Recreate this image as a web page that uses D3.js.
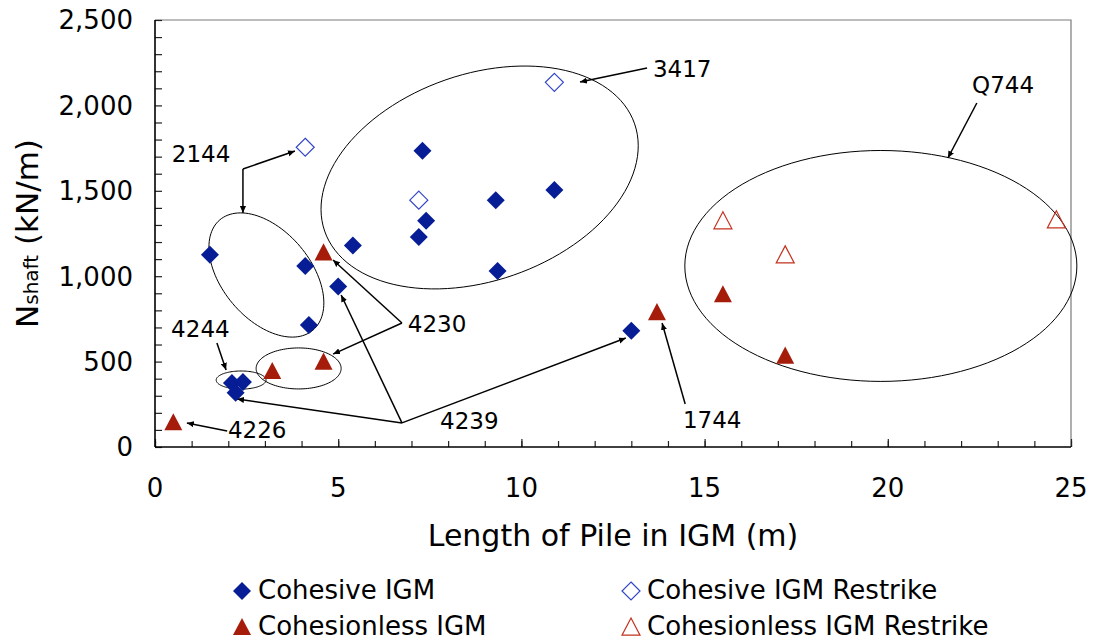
<!DOCTYPE html>
<html>
<head>
<meta charset="utf-8">
<script src="https://cdn.jsdelivr.net/npm/d3@7"></script>
<style>
  body { margin: 0; background: #fff; }
  text { font-family: "DejaVu Sans", Verdana, sans-serif; fill: #000; }
</style>
</head>
<body>
<div class="canvas"></div>
<script>
// pile data: [length in IGM (m), Nshaft (kN/m)]
const cohesive = [[1.5, 1125], [4.1, 1060], [4.2, 715], [5.0, 940], [5.4, 1180], [7.3, 1735], [7.4, 1325],
  [7.2, 1230], [9.3, 1445], [9.35, 1030], [10.9, 1505], [13.0, 680], [2.1, 375], [2.4, 380], [2.2, 318]];
const cohesiveRestrike = [[4.1, 1755], [7.2, 1445], [10.9, 2135]];
const cohesionless = [[0.5, 145], [3.2, 445], [4.6, 500], [4.6, 1140], [13.7, 790], [15.5, 895], [17.2, 535]];
const cohesionlessRestrike = [[15.5, 1325], [17.2, 1125], [24.6, 1330]];

const seriesNames = ["Cohesive IGM", "Cohesive IGM Restrike", "Cohesionless IGM", "Cohesionless IGM Restrike"];

const xTicks = [0, 5, 10, 15, 20, 25];
const yTicks = [0, 500, 1000, 1500, 2000, 2500];

// pile id callouts (anchor in data units)
const noteLabels = [["2144", 0.46, 1669], ["3417", 13.59, 2166], ["Q744", 22.3, 2073], ["1744", 14.41, 111],
  ["4230", 6.9, 673], ["4239", 7.78, 105], ["4244", 0.44, 644], ["4226", 1.99, 53]];
// arrows: [from, to] in data units
const noteArrows = [
  [[2.40, 1628], [2.40, 1370]], [[2.40, 1628], [3.82, 1733]],
  [[13.43, 2219], [11.6, 2137]],
  [[22.43, 2014], [21.64, 1692]],
  [[14.47, 252], [13.84, 726]],
  [[6.74, 726], [4.86, 1095]], [[6.74, 726], [4.86, 544]],
  [[6.74, 141], [5.08, 890]], [[6.74, 141], [2.24, 281]], [[6.74, 141], [12.85, 638]],
  [[1.69, 609], [1.94, 451]],
  [[1.97, 94], [0.87, 141]]
];
// grouping ellipses: centre plus two conjugate half-axis vectors, data units
const groupEllipses = [
  [[3.04, 1007], [1.27, -323], [-0.92, -167]],
  [[8.86, 1578], [4.23, 314], [0.92, -572]],
  [[19.81, 1060], [5.35, 0], [0, 676]],
  [[2.35, 392], [0.68, 0], [0, 53]],
  [[3.92, 460], [1.16, 0], [0, 120]]
];

const svgWidth = 1095;
const svgHeight = 641;
const margin = {top: 20, right: 24, bottom: 194, left: 155};
const graphWidth = svgWidth - margin.left - margin.right;
const graphHeight = svgHeight - margin.top - margin.bottom;

const blue = "#061d96", blueOpen = "#3346c6", red = "#a61c0b", redOpen = "#c3321f";

// excel-like marker shapes, centred on their box
const shapes = {
  diamond: function(s) {
    return `M0,${-s}L${s},0L0,${s}L${-s},0Z`;
  },
  triangle: function(s) {
    return `M0,${-s}L${s},${s * 0.9}L${-s},${s * 0.9}Z`;
  }
};

const svg = d3.select('.canvas')
  .append('svg')
    .attr('width', svgWidth)
    .attr('height', svgHeight);

svg.append("defs").append("marker")
    .attr("id", "head")
    .attr("viewBox", "0 -4 8 8")
    .attr("refX", 8).attr("refY", 0)
    .attr("markerWidth", 7).attr("markerHeight", 7)
    .attr("markerUnits", "userSpaceOnUse")
    .attr("orient", "auto")
  .append("path")
    .attr("d", "M0,-3.5L8,0L0,3.5Z")
    .attr("fill", "#000");

const graph = svg.append('g')
  .attr('transform', `translate(${margin.left},${margin.top})`);

const x = d3.scaleLinear().domain([0, 25]).range([0, graphWidth]);
const y = d3.scaleLinear().domain([0, 2500]).range([graphHeight, 0]);

// frame top and right
graph.append("path")
  .attr("d", `M0,0H${graphWidth}V${graphHeight}`)
  .attr("fill", "none").attr("stroke", "#7a7a7a").attr("stroke-width", 1.2);

// minor ticks
const xAxisG = graph.append("g").attr("transform", `translate(0,${graphHeight})`);
xAxisG.call(d3.axisBottom(x).tickValues(d3.range(0, 26, 1)).tickSizeInner(-6).tickSizeOuter(0).tickFormat(""));
xAxisG.append("g").call(d3.axisBottom(x).tickValues(xTicks).tickSizeInner(-8).tickSizeOuter(0).tickFormat(""));
xAxisG.selectAll(".domain").remove();

const yAxisG = graph.append("g");
yAxisG.call(d3.axisLeft(y).tickValues(d3.range(0, 2501, 100)).tickSizeInner(-7).tickSizeOuter(0).tickFormat(""));
yAxisG.selectAll(".domain").remove();
graph.selectAll(".tick line").attr("stroke", "#222").attr("stroke-width", 1.2);

// axis lines
graph.append("line").attr("x1", 0).attr("x2", 0).attr("y1", 0).attr("y2", graphHeight)
  .attr("stroke", "#000").attr("stroke-width", 1.6);
graph.append("line").attr("x1", 0).attr("x2", graphWidth).attr("y1", graphHeight).attr("y2", graphHeight)
  .attr("stroke", "#000").attr("stroke-width", 1.6);

// tick labels
graph.selectAll(".xlab").data(xTicks).enter().append("text")
  .attr("x", d => x(d)).attr("y", graphHeight + 50)
  .attr("text-anchor", "middle").style("font-size", "26px")
  .text(d => d);
graph.selectAll(".ylab").data(yTicks).enter().append("text")
  .attr("x", -22).attr("y", d => y(d)).attr("dy", "0.36em")
  .attr("text-anchor", "end").style("font-size", "26px")
  .text(d => d3.format(",")(d));

// axis titles
svg.append("text")
  .attr("x", margin.left + graphWidth / 2).attr("y", 546)
  .attr("text-anchor", "middle").style("font-size", "30px")
  .text("Length of Pile in IGM (m)");
const yt = svg.append("text")
  .attr("transform", `translate(38,${margin.top + graphHeight / 2}) rotate(-90)`)
  .attr("text-anchor", "middle").style("font-size", "31px");
yt.append("tspan").text("N");
yt.append("tspan").style("font-size", "20px").text("shaft");
yt.append("tspan").text(" (kN/m)");

// ellipses
const ellipseLine = d3.line().curve(d3.curveLinearClosed);
graph.selectAll(".ell").data(groupEllipses).enter().append("path")
  .attr("d", e => ellipseLine(d3.range(0, 360, 3).map(a => {
    const t = a * Math.PI / 180;
    return [x(e[0][0] + e[1][0] * Math.cos(t) + e[2][0] * Math.sin(t)),
            y(e[0][1] + e[1][1] * Math.cos(t) + e[2][1] * Math.sin(t))];
  })))
  .attr("fill", "none").attr("stroke", "#000").attr("stroke-width", 1);

// arrows
graph.selectAll(".arrow").data(noteArrows).enter().append("line")
  .attr("x1", d => x(d[0][0])).attr("y1", d => y(d[0][1]))
  .attr("x2", d => x(d[1][0])).attr("y2", d => y(d[1][1]))
  .attr("stroke", "#000").attr("stroke-width", 1.5)
  .attr("marker-end", "url(#head)");

graph.selectAll(".note").data(noteLabels).enter().append("text")
  .attr("x", d => x(d[1])).attr("y", d => y(d[2]))
  .style("font-size", "23px")
  .text(d => d[0]);

// points
function drawSeries(data, shape, fill, stroke) {
  graph.append("g").selectAll("path").data(data).enter().append("path")
    .attr("d", shapes[shape](9))
    .attr("transform", d => `translate(${x(d[0])},${y(d[1])})`)
    .attr("fill", fill)
    .attr("stroke", stroke)
    .attr("stroke-width", stroke === "none" ? 0 : 1.2);
}
drawSeries(cohesive, "diamond", blue, "none");
drawSeries(cohesiveRestrike, "diamond", "#fff", blueOpen);
drawSeries(cohesionless, "triangle", red, "none");
drawSeries(cohesionlessRestrike, "triangle", "none", redOpen);

// legend
const legendItems = [
  {name: seriesNames[0], shape: "diamond", fill: blue, stroke: "none", lx: 242, ly: 591},
  {name: seriesNames[1], shape: "diamond", fill: "#fff", stroke: blueOpen, lx: 631, ly: 591},
  {name: seriesNames[2], shape: "triangle", fill: red, stroke: "none", lx: 242, ly: 627},
  {name: seriesNames[3], shape: "triangle", fill: "none", stroke: redOpen, lx: 631, ly: 627}
];
const lg = svg.append("g").selectAll("g").data(legendItems).enter().append("g")
  .attr("transform", d => `translate(${d.lx},${d.ly})`);
lg.append("path")
  .attr("d", d => shapes[d.shape](9))
  .attr("fill", d => d.fill).attr("stroke", d => d.stroke)
  .attr("stroke-width", d => d.stroke === "none" ? 0 : 1.2);
lg.append("text")
  .attr("x", 16).attr("y", 8)
  .style("font-size", "26px")
  .text(d => d.name);
</script>
</body>
</html>
